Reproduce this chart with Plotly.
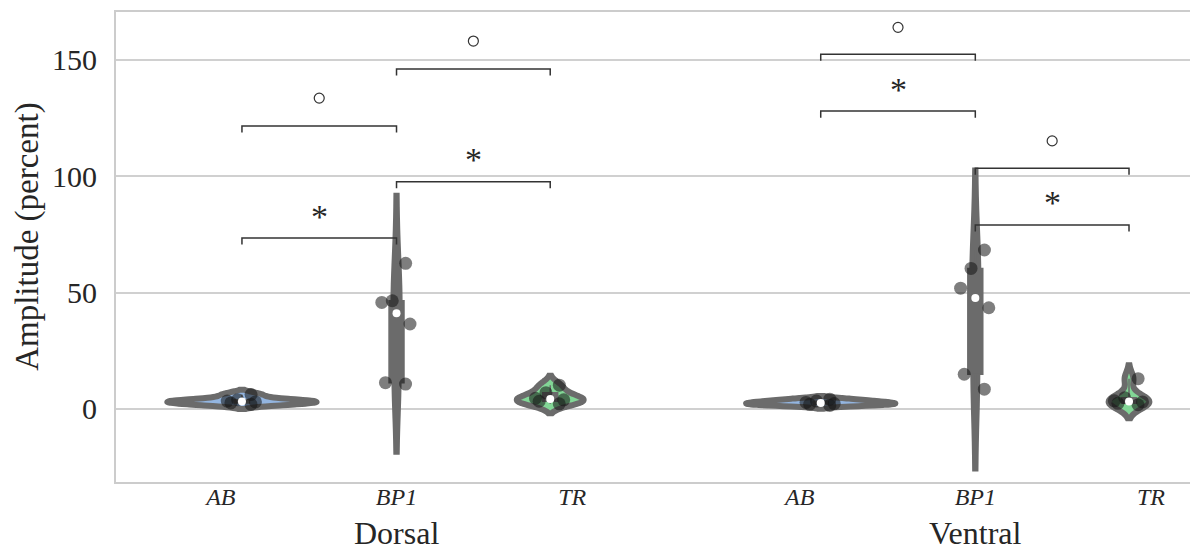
import numpy as np
import plotly.graph_objects as go

# ---------------- data ----------------
groups = ["Dorsal", "Ventral"]
categories = ["AB", "BP1", "TR"]

dorsal_ab = [2.0, 2.6, 3.0, 3.4, 4.0, 6.2]
dorsal_bp1 = [62.6, 46.5, 45.8, 36.5, 10.7, 11.3]
dorsal_tr = [2.2, 3.3, 3.9, 4.6, 7.0, 10.2]
ventral_ab = [1.5, 2.0, 2.3, 2.8, 3.4, 4.2]
ventral_bp1 = [68.3, 60.4, 51.9, 43.5, 14.9, 8.5]
ventral_tr = [1.8, 2.4, 3.0, 3.5, 4.8, 13.0]

y_ticks = [0, 50, 100, 150]

# significance brackets
sig_group = ["Dorsal", "Dorsal", "Dorsal", "Dorsal", "Ventral", "Ventral", "Ventral", "Ventral"]
sig_left = ["AB", "AB", "BP1", "BP1", "AB", "AB", "BP1", "BP1"]
sig_right = ["BP1", "BP1", "TR", "TR", "BP1", "BP1", "TR", "TR"]
sig_height = [73.5, 121.6, 97.6, 146.1, 128.0, 152.4, 79.1, 103.4]
sig_mark = ["*", "o", "*", "o", "*", "o", "*", "o"]
sig_mark_y = [84.2, 133.6, 108.7, 158.1, 138.5, 164.0, 90.1, 115.2]

data = {
    ("Dorsal", "AB"): dorsal_ab, ("Dorsal", "BP1"): dorsal_bp1, ("Dorsal", "TR"): dorsal_tr,
    ("Ventral", "AB"): ventral_ab, ("Ventral", "BP1"): ventral_bp1, ("Ventral", "TR"): ventral_tr,
}

# ---------------- layout constants ----------------
group_center = {"Dorsal": 1.0, "Ventral": 4.295}
tick_offset = {"AB": -1.0, "BP1": 0.0, "TR": 1.0}
violin_offset = {"AB": -0.88, "BP1": 0.0, "TR": 0.875}
violin_width = {("Dorsal", "AB"): 0.85, ("Dorsal", "BP1"): 0.035, ("Dorsal", "TR"): 0.38,
                ("Ventral", "AB"): 0.85, ("Ventral", "BP1"): 0.035, ("Ventral", "TR"): 0.23}
fill = {"AB": "#93b5e0", "BP1": "#6b6b6b", "TR": "#82d696"}
GREY = "#6b6b6b"
FONT = "Liberation Serif"
TXT = "#262626"

def vpos(g, c):
    return group_center[g] + violin_offset[c]

fig = go.Figure()

# violins
for g in groups:
    for c in categories:
        vals = np.array(data[(g, c)], dtype=float)
        bw = vals.std(ddof=1) * len(vals) ** (-0.2)
        fig.add_trace(go.Violin(
            x=[vpos(g, c)] * len(vals), y=vals, width=violin_width[(g, c)],
            bandwidth=bw, spanmode="soft", points=False,
            fillcolor=fill[c], line=dict(color=GREY, width=6),
            box_visible=False, meanline_visible=False, showlegend=False,
            hoverinfo="skip"))

# inner boxes
for g in groups:
    for c in categories:
        vals = data[(g, c)]
        fig.add_trace(go.Box(
            x=[vpos(g, c)] * len(vals), y=vals, width=0.085,
            fillcolor=GREY, line=dict(color=GREY, width=1.5), whiskerwidth=0,
            boxpoints=False, showlegend=False, hoverinfo="skip"))

# median dots
for g in groups:
    for c in categories:
        fig.add_trace(go.Scatter(
            x=[vpos(g, c)], y=[float(np.median(data[(g, c)]))], mode="markers",
            marker=dict(color="white", size=8), showlegend=False, hoverinfo="skip"))

# jittered points
for g in groups:
    for c in categories:
        vals = data[(g, c)]
        fig.add_trace(go.Box(
            x=[vpos(g, c)] * len(vals), y=vals, width=0.22,
            boxpoints="all", jitter=0.9, pointpos=0,
            fillcolor="rgba(0,0,0,0)", line=dict(color="rgba(0,0,0,0)", width=0),
            marker=dict(size=13, color="rgba(20,20,20,0.55)", line=dict(width=0)),
            showlegend=False, hoverinfo="skip"))

# significance brackets
tick_drop = 2.8
annotations = []
for g, a, b, h, m, my in zip(sig_group, sig_left, sig_right, sig_height, sig_mark, sig_mark_y):
    xa, xb = vpos(g, a), vpos(g, b)
    fig.add_trace(go.Scatter(
        x=[xa, xa, xb, xb], y=[h - tick_drop, h, h, h - tick_drop], mode="lines",
        line=dict(color="#333333", width=1.5), showlegend=False, hoverinfo="skip"))
    if m == "o":
        fig.add_trace(go.Scatter(
            x=[(xa + xb) / 2], y=[my], mode="markers",
            marker=dict(symbol="circle-open", size=10, color="#333333", line=dict(width=1.2)),
            showlegend=False, hoverinfo="skip"))
    else:
        annotations.append(dict(x=(xa + xb) / 2, y=my, text="*", showarrow=False,
                                xref="x", yref="y", yanchor="middle", yshift=-3,
                                font=dict(family=FONT, size=34, color=TXT)))

# group labels
for g in groups:
    annotations.append(dict(x=group_center[g], y=-0.108, xref="x", yref="paper",
                            text=g, showarrow=False, yanchor="middle",
                            font=dict(family=FONT, size=32, color=TXT)))
# y title
annotations.append(dict(x=-0.0815, y=0.522, xref="paper", yref="paper",
                        text="Amplitude (percent)", textangle=-90, showarrow=False,
                        xanchor="center", yanchor="middle",
                        font=dict(family=FONT, size=33, color=TXT)))

tickvals, ticktext = [], []
for g in groups:
    for c in categories:
        tickvals.append(group_center[g] + tick_offset[c])
        ticktext.append("<i>%s</i>" % c)

# page body has an 8px margin: shrink the figure so the plot area lands in place
fig.update_layout(
    width=1190, height=542,
    margin=dict(l=108, r=2, t=4, b=68),
    plot_bgcolor="white", paper_bgcolor="white",
    violinmode="overlay", boxmode="overlay",
    annotations=annotations,
    xaxis=dict(range=[-0.597, 5.54], tickvals=tickvals, ticktext=ticktext,
               tickfont=dict(family=FONT, size=24, color=TXT),
               showgrid=False, zeroline=False, showline=True, mirror=True,
               linecolor="#cccccc", linewidth=2, ticks="", ticklabelstandoff=-8),
    yaxis=dict(range=[-31.4, 170.6], tickvals=y_ticks,
               tickfont=dict(family=FONT, size=30, color=TXT),
               showgrid=True, gridcolor="#d0d0d0", gridwidth=2,
               zeroline=False, showline=True, mirror=True,
               linecolor="#cccccc", linewidth=2, ticks="", ticklabelstandoff=11),
)

fig.write_html("out.html")
